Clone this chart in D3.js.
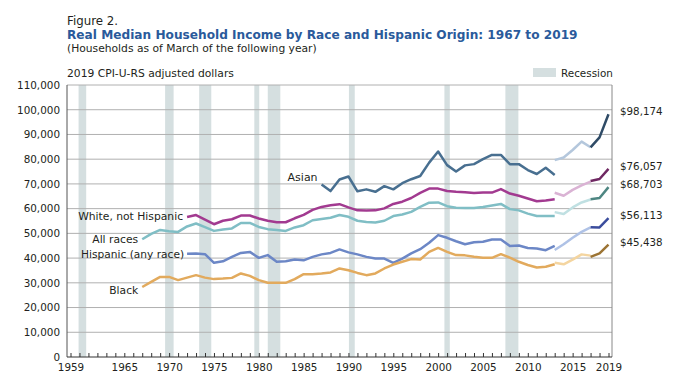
<!doctype html>
<html>
<head>
<meta charset="utf-8"/>
<style>
  html, body { margin: 0; padding: 0; background: #fff; }
  svg { display: block; font-family: "DejaVu Sans", sans-serif; }
  text { fill: #231f20; }
</style>
<script src="https://d3js.org/d3.v7.min.js"></script>
</head>
<body>
<svg id="chart" width="679" height="385"></svg>
<script>
// ---- data (thousands of 2019 dollars) ----
// old series run to 2013, redesigned questionnaire 2013-2017, updated processing 2017-2019
var asianOld = [69.8, 67.1, 71.8, 73.0, 67.0, 67.8, 66.8, 69.1, 67.8, 70.3, 71.9, 73.2, 78.6, 83.1,
    77.6, 75.0, 77.5, 78.0, 80.0, 81.7, 81.7, 78.0, 78.0, 75.6, 74.0, 76.5, 73.6];
var asianMid = [79.6, 80.7, 83.7, 87.1, 84.8];
var asianNew = [84.8, 88.8, 98.174];

var whiteOld = [56.6, 57.4, 55.6, 53.7, 55.1, 55.7, 57.2, 57.2, 56.0, 55.1, 54.5, 54.5, 56.1, 57.5,
    59.5, 60.7, 61.4, 61.8, 60.5, 59.3, 59.2, 59.3, 60.1, 61.9, 62.8, 64.3, 66.4, 68.1, 68.1,
    67.1, 66.8, 66.6, 66.3, 66.5, 66.5, 67.9, 66.1, 65.2, 64.1, 63.0, 63.3, 63.8];
var whiteMid = [66.4, 65.2, 67.6, 69.4, 70.9];
var whiteNew = [71.2, 72.0, 76.057];

var allOld = [47.6, 49.8, 51.4, 50.9, 50.6, 52.8, 54.0, 52.5, 51.0, 51.6, 52.0, 54.2, 54.2, 52.6,
    51.7, 51.4, 51.0, 52.4, 53.3, 55.3, 55.8, 56.3, 57.4, 56.7, 55.1, 54.6, 54.4, 55.1, 57.0,
    57.6, 58.7, 60.7, 62.4, 62.5, 61.0, 60.4, 60.3, 60.3, 60.7, 61.3, 61.9, 59.8, 59.3, 58.0,
    57.0, 57.0, 57.0];
var allMid = [58.6, 57.8, 60.5, 62.5, 63.7];
var allNew = [63.8, 64.3, 68.703];

var hispOld = [41.8, 41.9, 41.6, 38.1, 38.7, 40.5, 42.1, 42.5, 40.1, 41.2, 38.5, 38.7, 39.4, 39.1,
    40.5, 41.5, 42.1, 43.5, 42.3, 41.5, 40.5, 39.8, 39.8, 38.1, 39.8, 41.9, 43.6, 46.2, 49.3,
    48.2, 46.8, 45.6, 46.4, 46.6, 47.5, 47.5, 44.9, 45.1, 44.1, 43.9, 43.2, 44.9];
var hispMid = [43.3, 45.6, 48.2, 50.6, 52.4];
var hispNew = [52.5, 52.4, 56.113];

var blackOld = [28.3, 30.4, 32.4, 32.4, 31.1, 32.1, 33.1, 32.1, 31.5, 31.7, 32.0, 33.8, 32.8, 31.1,
    30.0, 30.0, 30.0, 31.5, 33.5, 33.5, 33.8, 34.2, 35.8, 35.1, 34.0, 33.1, 33.8, 35.8, 37.4,
    38.5, 39.6, 39.4, 42.5, 44.1, 42.5, 41.2, 41.1, 40.5, 40.1, 40.1, 41.6, 40.2, 38.5, 37.2,
    36.2, 36.5, 37.5];
var blackMid = [38.1, 37.5, 39.4, 41.5, 41.0];
var blackNew = [40.5, 41.9, 45.438];

// recession spans as placed on the year axis
var recessionStart = [1959.9, 1969.55, 1973.35, 1979.5, 1981.0, 1990.05, 2000.7, 2007.5];
var recessionEnd   = [1960.75, 1970.5, 1974.7, 1980.05, 1982.4, 1990.7, 2001.3, 2008.95];

var yearLabels = [1959, 1965, 1970, 1975, 1980, 1985, 1990, 1995, 2000, 2005, 2010, 2015, 2019];
var incomeTicks = [0, 10000, 20000, 30000, 40000, 50000, 60000, 70000, 80000, 90000, 100000, 110000];

var seriesNames = ["Asian", "White, not Hispanic", "All races", "Hispanic (any race)", "Black"];

// ---- chart ----
var svg = d3.select("#chart");
var plotL = 67, plotR = 612, plotT = 85, plotB = 357;

var x = d3.scaleLinear().domain([1959, 2019]).range([70.5, 608.5]);
var y = d3.scaleLinear().domain([0, 110000]).range([plotB, plotT]);

// scale text so it spans a measured width
function fit(sel, w) {
    var cur = sel.node().getComputedTextLength();
    var fs = parseFloat(sel.attr("font-size"));
    sel.attr("font-size", fs * w / cur);
    return sel;
}

// headings
fit(svg.append("text").attr("x", 67).attr("y", 25).attr("font-size", 12).text("Figure 2."), 51);
fit(svg.append("text").attr("x", 67).attr("y", 39).attr("font-size", 13)
    .attr("font-weight", "bold").style("fill", "#2a5a9b")
    .text("Real Median Household Income by Race and Hispanic Origin: 1967 to 2019"), 511);
fit(svg.append("text").attr("x", 67).attr("y", 52).attr("font-size", 11)
    .text("(Households as of March of the following year)"), 250);
fit(svg.append("text").attr("x", 67).attr("y", 77).attr("font-size", 11)
    .text("2019 CPI-U-RS adjusted dollars"), 167);

// legend
svg.append("rect").attr("x", 533).attr("y", 68).attr("width", 23).attr("height", 9)
    .attr("fill", "#d5dfe0");
fit(svg.append("text").attr("x", 561).attr("y", 77).attr("font-size", 11).text("Recession"), 52);

// recession bars
svg.append("g").selectAll("rect")
    .data(recessionStart)
    .join("rect")
    .attr("x", function(d) { return x(d); })
    .attr("width", function(d, i) { return x(recessionEnd[i]) - x(d); })
    .attr("y", plotT)
    .attr("height", plotB - plotT)
    .attr("fill", "#d5dfe0");

// gridlines
svg.append("g").selectAll("line")
    .data(incomeTicks.slice(1))
    .join("line")
    .attr("x1", plotL).attr("x2", plotR)
    .attr("y1", function(d) { return y(d); })
    .attr("y2", function(d) { return y(d); })
    .attr("stroke", "#b0b0b0").attr("stroke-width", 1);

// frame
svg.append("line").attr("x1", plotL).attr("x2", plotL).attr("y1", plotT).attr("y2", plotB)
    .attr("stroke", "#555");
svg.append("line").attr("x1", plotR).attr("x2", plotR).attr("y1", plotT).attr("y2", plotB)
    .attr("stroke", "#888");

// y axis labels
var yAxis = svg.append("g").attr("transform", "translate(" + plotL + ",0)")
    .call(d3.axisLeft(y).tickValues(incomeTicks).tickSize(0).tickPadding(7)
        .tickFormat(d3.format(",")));
yAxis.select(".domain").remove();
yAxis.selectAll("text").attr("font-size", 10.4).attr("font-family", "DejaVu Sans").style("fill", "#231f20");

// x axis: a tick every year pointing up, labels at selected years
var xTicks = svg.append("g").attr("transform", "translate(0," + plotB + ")")
    .call(d3.axisBottom(x).tickValues(d3.range(1959, 2020)).tickSize(-4).tickFormat(""));
xTicks.select(".domain").remove();
xTicks.selectAll("line").attr("stroke", "#333");
var xLabels = svg.append("g").attr("transform", "translate(0," + plotB + ")")
    .call(d3.axisBottom(x).tickValues(yearLabels).tickSize(0).tickPadding(7)
        .tickFormat(d3.format("d")));
xLabels.select(".domain").remove();
xLabels.selectAll("text").attr("font-size", 10.4).attr("font-family", "DejaVu Sans").style("fill", "#231f20");
svg.append("line").attr("x1", plotL).attr("x2", plotR).attr("y1", plotB).attr("y2", plotB)
    .attr("stroke", "#333");

// lines
var series = [
    {name: seriesNames[0], parts: [[1987, asianOld], [2013, asianMid], [2017, asianNew]],
        colors: ["#486f90", "#b4c7dc", "#2f4b66"], dx: -4, dy: -3},
    {name: seriesNames[1], parts: [[1972, whiteOld], [2013, whiteMid], [2017, whiteNew]],
        colors: ["#a23a90", "#dab3d4", "#6f2862"], dx: -4, dy: 3},
    {name: seriesNames[2], parts: [[1967, allOld], [2013, allMid], [2017, allNew]],
        colors: ["#80bec5", "#c0e0e2", "#4e8682"], dx: -4, dy: 4},
    {name: seriesNames[3], parts: [[1972, hispOld], [2013, hispMid], [2017, hispNew]],
        colors: ["#6c87c6", "#afc2e6", "#3b4d9d"], dx: -3, dy: 4},
    {name: seriesNames[4], parts: [[1967, blackOld], [2013, blackMid], [2017, blackNew]],
        colors: ["#e2aa5d", "#f4d5a0", "#9c7434"], dx: -4, dy: 7}
];

var line = d3.line()
    .x(function(d) { return x(d[0]); })
    .y(function(d) { return y(d[1] * 1000); });

var labelWidths = [30, 105, 46, 103, 29];

series.forEach(function(s, si) {
    s.parts.forEach(function(p, pi) {
        var pts = p[1].map(function(v, i) { return [p[0] + i, v]; });
        svg.append("path")
            .attr("d", line(pts))
            .attr("fill", "none")
            .attr("stroke", s.colors[pi])
            .attr("stroke-width", 2.5)
            .attr("stroke-linejoin", "round");
    });
    var first = s.parts[0];
    var t = svg.append("text")
        .attr("x", x(first[0]) + s.dx)
        .attr("y", y(first[1][0] * 1000) + s.dy)
        .attr("text-anchor", "end")
        .attr("font-size", 11)
        .text(s.name);
    fit(t, labelWidths[si]);

    var last = s.parts[2][1];
    svg.append("text")
        .attr("x", 620)
        .attr("y", y(last[last.length - 1] * 1000) + 1)
        .attr("font-size", 10.3)
        .text(d3.format("$,")(Math.round(last[last.length - 1] * 1000)));
});
</script>
</body>
</html>
